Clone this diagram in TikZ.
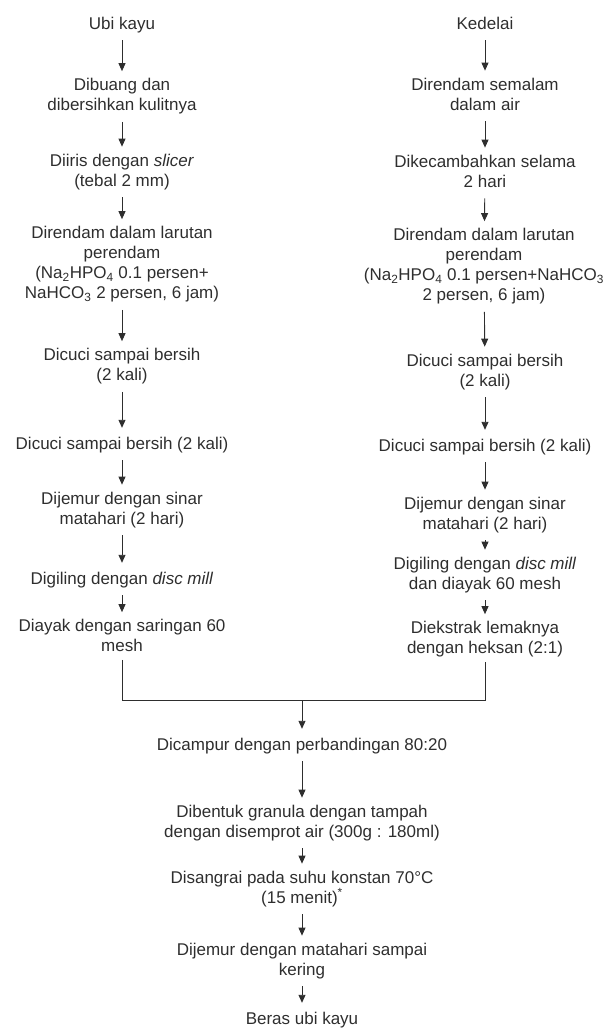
\documentclass[tikz,border=0pt]{standalone}
\usepackage{fontspec}
\setmainfont{Liberation Sans}
\usetikzlibrary{arrows.meta}
\definecolor{ink}{rgb}{0.18,0.18,0.18}
\begin{document}
\begin{tikzpicture}[x=1pt,y=-1pt,
  stepnode/.style={align=center,inner xsep=0pt,inner ysep=2pt,text=ink,
    font=\fontsize{17}{20}\selectfont,
    execute at begin node=\strut,execute at end node=\strut},
  flow/.style={draw=ink,line width=0.9pt,-{Triangle[length=8pt,width=7pt]},shorten >=5pt,shorten <=3pt},
  joint/.style={draw=ink,line width=0.9pt}]
\useasboundingbox (0,0) rectangle (603,1028);
% left column
\node[stepnode] (L1) at (122,25) {Ubi kayu};
\node[stepnode] (L2) at (122,97.5) {Dibuang dan\\dibersihkan kulitnya};
\node[stepnode] (L3) at (122,173) {Diiris dengan \textit{slicer}\\(tebal 2 mm)};
\node[stepnode] (L4) at (122,265.5) {Direndam dalam larutan\\perendam\\(Na\textsubscript{2}HPO\textsubscript{4} 0.1 persen+\\NaHCO\textsubscript{3} 2 persen, 6 jam)};
\node[stepnode] (L5) at (122,367.5) {Dicuci sampai bersih\\(2 kali)};
\node[stepnode] (L6) at (122,445) {Dicuci sampai bersih (2 kali)};
\node[stepnode] (L7) at (122,511) {Dijemur dengan sinar\\matahari (2 hari)};
\node[stepnode] (L8) at (122,580) {Digiling dengan \textit{disc mill}};
\node[stepnode] (L9) at (122,638.5) {Diayak dengan saringan 60\\mesh};
% right column
\node[stepnode] (R1) at (485,25) {Kedelai};
\node[stepnode] (R2) at (485,97) {Direndam semalam\\dalam air};
\node[stepnode] (R3) at (485,174) {Dikecambahkan selama\\2 hari};
\node[stepnode] (R4) at (484,267.5) {Direndam dalam larutan\\perendam\\(Na\textsubscript{2}HPO\textsubscript{4} 0.1 persen+NaHCO\textsubscript{3}\\2 persen, 6 jam)};
\node[stepnode] (R5) at (485,373) {Dicuci sampai bersih\\(2 kali)};
\node[stepnode] (R6) at (485,447) {Dicuci sampai bersih (2 kali)};
\node[stepnode] (R7) at (485,516) {Dijemur dengan sinar\\matahari (2 hari)};
\node[stepnode] (R8) at (485,576) {Digiling dengan \textit{disc mill}\\dan diayak 60 mesh};
\node[stepnode] (R9) at (485,640.5) {Diekstrak lemaknya\\dengan heksan (2:1)};
% centre column
\coordinate (M) at (302,700);
\node[stepnode] (C1) at (302,746) {Dicampur dengan perbandingan 80:20};
\node[stepnode] (C2) at (302,824) {Dibentuk granula dengan tampah\\dengan disemprot air (300g : 180ml)};
\node[stepnode] (C3) at (302,890) {Disangrai pada suhu konstan 70°C\\(15 menit)\textsuperscript{*}};
\node[stepnode] (C4) at (302,962) {Dijemur dengan matahari sampai\\kering};
\node[stepnode] (C5) at (302,1020) {Beras ubi kayu};
% arrows
\foreach \a/\b in {L1/L2,L2/L3,L3/L4,L4/L5,L5/L6,L6/L7,L7/L8,L8/L9,
                   R1/R2,R2/R3,R3/R4,R4/R5,R5/R6,R6/R7,R7/R8,R8/R9,
                   C1/C2,C2/C3,C3/C4,C4/C5}
  \draw[flow] (\a) -- (\b);
\draw[joint] (L9.south) -- (L9.south |- M) -- (R9.south |- M) -- (R9.south);
\draw[flow,shorten <=0pt] (M) -- (C1);
\end{tikzpicture}
\end{document}
